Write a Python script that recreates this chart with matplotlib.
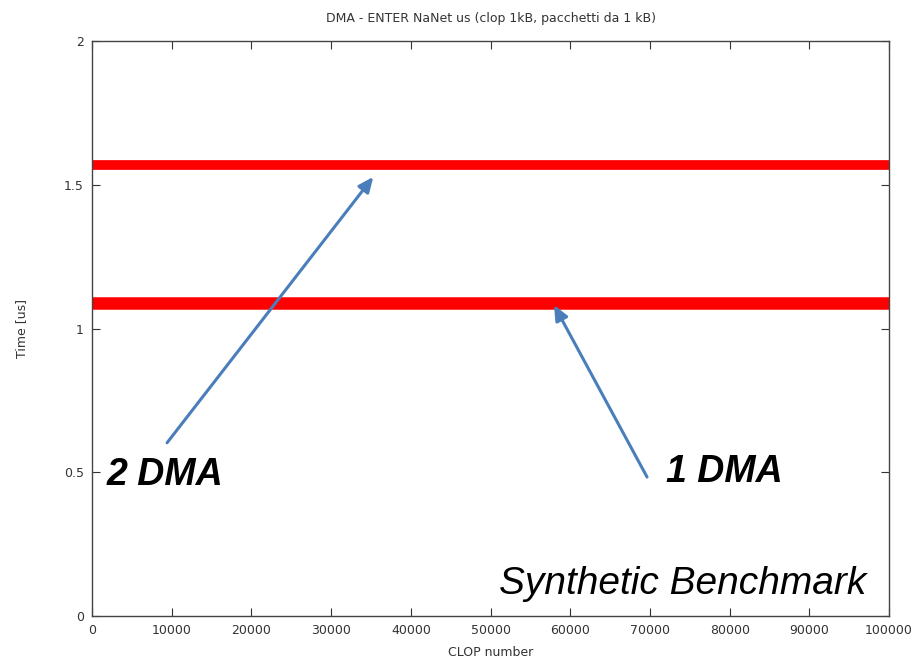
import matplotlib
matplotlib.use("Agg")
import matplotlib.pyplot as plt

# run data (time per CLOP, us) - the two bands
clop = [0, 100000]
time_1dma = [1.09, 1.09]
time_2dma = [1.57, 1.57]

xticks = [0, 10000, 20000, 30000, 40000, 50000, 60000, 70000, 80000, 90000, 100000]
yticks = [0, 0.5, 1, 1.5, 2]

fig = plt.figure(figsize=(9.24, 6.66), dpi=100)
ax = fig.add_axes([0.0996, 0.075, 0.8626, 0.8634])

# thick red bands (many overlapping points in the original)
ax.plot(clop, time_2dma, color="red", linewidth=7, solid_capstyle="butt")
ax.plot(clop, time_1dma, color="red", linewidth=9, solid_capstyle="butt")

ax.set_xlim(0, 100000)
ax.set_ylim(0, 2)
ax.set_xticks(xticks)
ax.set_yticks(yticks)
ax.set_yticklabels(["0", "0.5", "1", "1.5", "2"])
ax.tick_params(direction="in", top=True, right=True, length=6, labelsize=9,
               colors="#333333", pad=6)
for s in ax.spines.values():
    s.set_color("#444444")
    s.set_linewidth(1)

ax.set_title("DMA - ENTER NaNet us (clop 1kB, pacchetti da 1 kB)", fontsize=9,
             color="#333333", pad=14)
ax.set_xlabel("CLOP number", fontsize=9, color="#333333", labelpad=6)
ax.set_ylabel("Time [us]", fontsize=9, color="#333333", labelpad=26)

arrow = dict(arrowstyle="-|>,head_length=0.9,head_width=0.4", color="#4a7ebb", lw=2.2)
ax.annotate("", xy=(35500, 1.535), xytext=(9200, 0.595), arrowprops=arrow)
ax.annotate("", xy=(57800, 1.09), xytext=(69800, 0.475), arrowprops=arrow)

big = dict(fontsize=27, fontweight="bold", fontstyle="italic",
           family="Liberation Sans", color="black", va="center")
ax.text(1800, 0.49, "2 DMA", **big)
ax.text(72000, 0.50, "1 DMA", **big)
ax.text(51000, 0.11, "Synthetic Benchmark", fontsize=28, fontstyle="italic",
        family="Liberation Sans", color="black", va="center")

fig.savefig("out.png", dpi=100)
